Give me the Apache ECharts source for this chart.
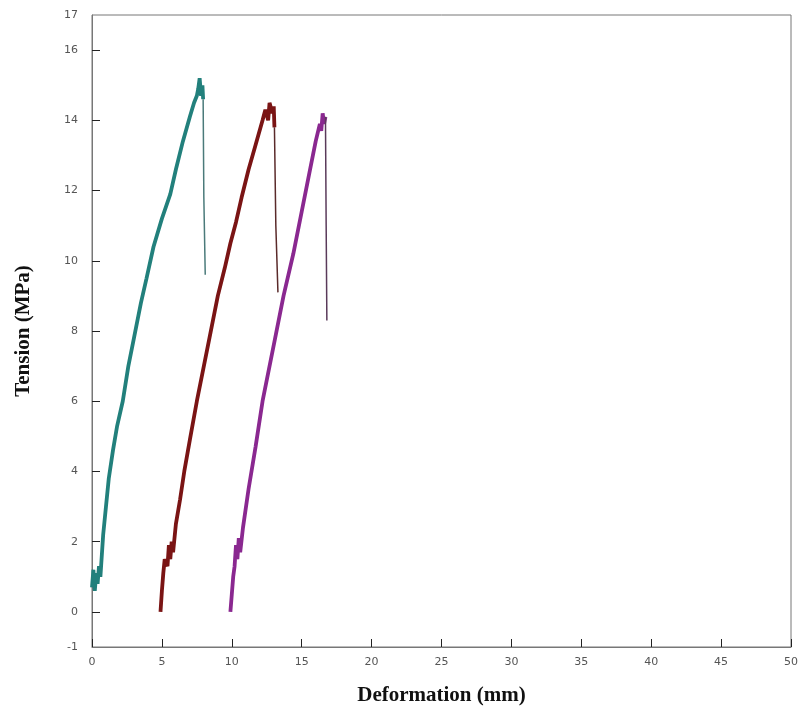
<!DOCTYPE html>
<html>
<head>
<meta charset="utf-8">
<script src="https://cdn.jsdelivr.net/npm/echarts@6/dist/echarts.min.js"></script>
<style>html,body{margin:0;padding:0;background:#fff}#c{width:798px;height:718px}</style>
</head>
<body>
<div id="c"></div>
<script>
const xTicks = [0,5,10,15,20,25,30,35,40,45,50];
const yLabels = [-1,0,2,4,6,8,10,12,14,16,17];
const yTicks = [0,2,4,6,8,10,12,14,16];

const sampleA = [[0.0,0.7],[0.1,1.2],[0.2,0.6],[0.3,1.1],[0.4,0.8],[0.5,1.3],[0.6,1.0],[0.8,2.2],[1.0,3.0],[1.2,3.8],[1.5,4.6],[1.8,5.3],[2.2,6.0],[2.6,7.0],[3.0,7.8],[3.5,8.8],[3.9,9.5],[4.4,10.4],[5.0,11.2],[5.6,11.9],[6.0,12.6],[6.5,13.4],[7.0,14.1],[7.3,14.5],[7.5,14.7],[7.6,14.9],[7.7,15.2],[7.8,14.7],[7.9,15.0],[7.95,14.6]];
const dropA = [[7.95,14.6],[8.0,11.8],[8.1,9.6]];
const sampleB = [[4.9,0.0],[5.0,0.6],[5.1,1.1],[5.2,1.5],[5.4,1.3],[5.5,1.9],[5.6,1.5],[5.7,2.0],[5.8,1.7],[6.0,2.5],[6.3,3.2],[6.6,4.0],[7.0,4.9],[7.5,6.0],[8.0,7.0],[8.4,7.8],[9.0,9.0],[9.5,9.8],[9.9,10.5],[10.3,11.1],[10.7,11.8],[11.2,12.6],[11.7,13.3],[12.2,14.0],[12.4,14.3],[12.6,14.0],[12.7,14.5],[12.9,14.2],[13.0,14.4],[13.05,13.8]];
const dropB = [[13.05,13.8],[13.15,11.0],[13.3,9.1]];
const sampleC = [[9.9,0.0],[10.0,0.5],[10.1,1.0],[10.2,1.3],[10.3,1.9],[10.4,1.5],[10.5,2.1],[10.6,1.7],[10.8,2.4],[11.2,3.5],[11.7,4.7],[12.2,6.0],[12.7,7.0],[13.1,7.8],[13.7,9.0],[14.4,10.2],[15.0,11.4],[15.6,12.6],[16.0,13.4],[16.3,13.9],[16.4,13.7],[16.5,14.2],[16.6,13.9],[16.7,14.1]];
const dropC = [[16.7,14.1],[16.75,11.0],[16.8,8.3]];

const chart = echarts.init(document.getElementById('c'));
const mk = (data, color, width) => ({
  type: 'line', data, symbol: 'none', smooth: false,
  lineStyle: { color, width }, animation: false
});
chart.setOption({
  animation: false,
  grid: { left: 92, right: 7, top: 15, bottom: 71, show: true, borderColor: '#777', borderWidth: 1, outerBoundsMode: 'none', containLabel: false },
  xAxis: {
    type: 'value', min: 0, max: 50, interval: 5,
    name: 'Deformation (mm)', nameLocation: 'middle', nameGap: 38,
    nameTextStyle: { fontFamily: 'Liberation Serif', fontWeight: 'bold', fontSize: 21, color: '#111' },
    axisLine: { show: true, onZero: false, lineStyle: { color: '#777' } },
    axisTick: { show: true, inside: true, length: 8, lineStyle: { color: '#222' }, customValues: xTicks },
    axisLabel: { color: '#555', fontSize: 11, fontFamily: 'DejaVu Sans', margin: 10, customValues: xTicks },
    splitLine: { show: false }
  },
  yAxis: {
    type: 'value', min: -1, max: 17, interval: 1,
    name: 'Tension (MPa)', nameLocation: 'middle', nameGap: 58,
    nameTextStyle: { fontFamily: 'Liberation Serif', fontWeight: 'bold', fontSize: 21, color: '#111' },
    axisLine: { show: true, onZero: false, lineStyle: { color: '#777' } },
    axisTick: { show: true, inside: true, length: 8, lineStyle: { color: '#222' }, customValues: yTicks },
    axisLabel: { color: '#555', fontSize: 11, fontFamily: 'DejaVu Sans', margin: 14, customValues: yLabels },
    splitLine: { show: false }
  },
  series: [
    mk(sampleA, '#22807c', 3.8),
    mk(dropA, '#4a7a7a', 1.5),
    mk(sampleB, '#7a1414', 3.8),
    mk(dropB, '#5a2a2a', 1.5),
    mk(sampleC, '#8a2890', 3.8),
    mk(dropC, '#5a3a5a', 1.5)
  ]
});
</script>
</body>
</html>
